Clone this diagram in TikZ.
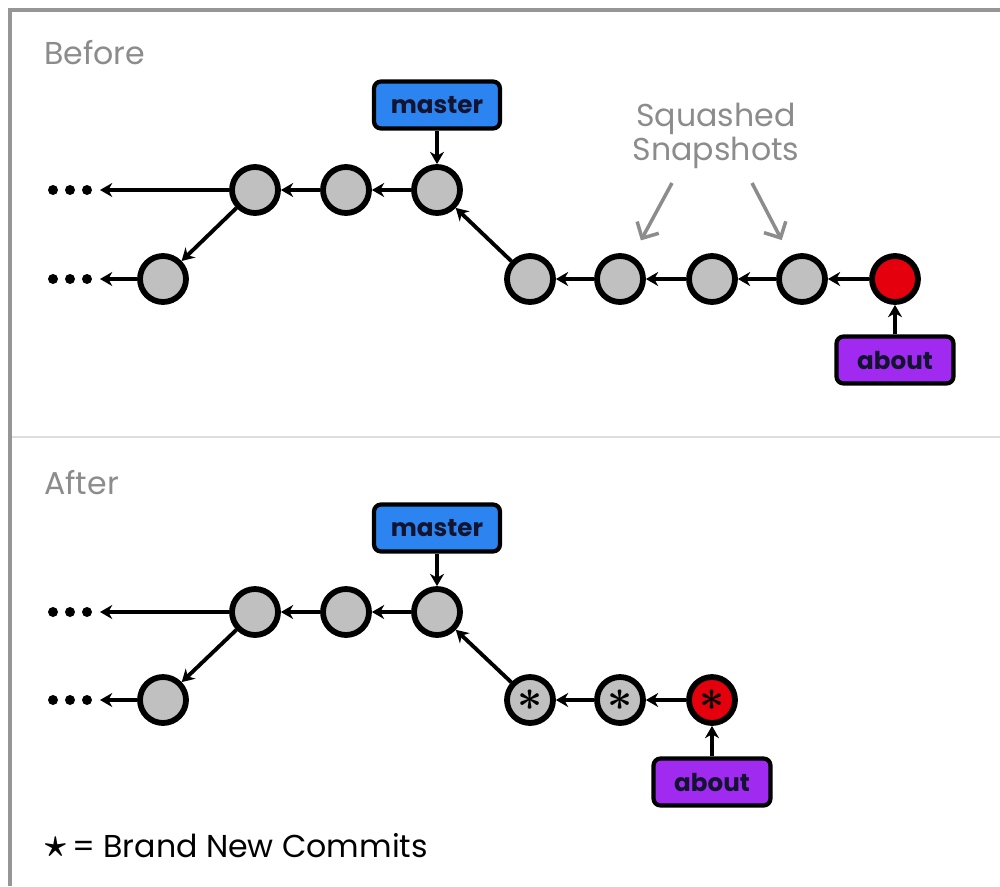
\documentclass[tikz,border=0pt]{standalone}
\usepackage{fontspec}
\setmainfont{Poppins}
\usepackage{tikz}
\usetikzlibrary{arrows.meta}

\definecolor{commitgray}{RGB}{192,192,192}
\definecolor{headred}{RGB}{228,0,12}
\definecolor{masterblue}{RGB}{44,132,240}
\definecolor{aboutpurple}{RGB}{160,42,240}
\definecolor{labelink}{RGB}{18,20,48}
\definecolor{captiongray}{RGB}{140,140,140}
\definecolor{framegray}{RGB}{150,150,150}
\definecolor{dividergray}{RGB}{222,222,222}

\tikzset{
  commit/.style={circle, draw=black, line width=3.3pt, fill=commitgray, minimum size=0.92cm, inner sep=0pt, font=\Huge\boldmath},
  headcommit/.style={commit, fill=headred},
  branch/.style={draw=black, line width=2.4pt, rounded corners=4pt, minimum height=0.94cm, font=\bfseries\fontsize{14}{14}\selectfont, text=labelink},
  parent/.style={->, >={Stealth[length=7pt, width=8pt]}, line width=2.2pt},
  note/.style={-{Straight Barb[length=7pt, width=14pt]}, line width=2pt, captiongray},
  caption/.style={font=\fontsize{18}{19}\selectfont, text=captiongray}
}

\begin{document}
\begin{tikzpicture}[x=0.02cm, y=-0.02cm]
            \useasboundingbox (0,0) rectangle (1000,886);

            % frame and divider
            \draw[framegray, line width=2.4pt] (10,886) -- (10,10) -- (1000,10);
            \draw[dividergray, line width=1.6pt] (12,437) -- (1000,437);

            % Before
            \node[caption, anchor=west] (before) at (38,53) {Before};
            \foreach \y in {190, 279} {
              \foreach \x in {53, 70, 87} \fill (\x,\y) circle (5);
            }
            \coordinate (tailA) at (100,190);
            \coordinate (tailD) at (100,279);

            \node (a) [commit] at (255,190) {};
            \node (b) [commit] at (346,190) {};
            \node (c) [commit] at (437,190) {};
            \node (d) [commit] at (163,279) {};
            \node (e) [commit] at (530,279) {};
            \node (f) [commit] at (620,279) {};
            \node (g) [commit] at (712,279) {};
            \node (h) [commit] at (802,279) {};
            \node (i) [headcommit] at (895,279) {};

            \node (master) [branch, fill=masterblue, minimum width=2.52cm] at (437,105) {master};
            \node (about) [branch, fill=aboutpurple, minimum width=2.34cm] at (895,360) {about};

            \draw[parent] (a) -- (tailA);
            \draw[parent] (a) -- (d);
            \draw[parent] (d) -- (tailD);
            \draw[parent] (b) -- (a);
            \draw[parent] (c) -- (b);
            \draw[parent] (e) -- (c);
            \draw[parent] (f) -- (e);
            \draw[parent] (g) -- (f);
            \draw[parent] (h) -- (g);
            \draw[parent] (i) -- (h);
            \draw[parent] (master) -- (c);
            \draw[parent] (about) -- (i);

            % Squashed note
            \node[caption, align=center] (squash) at (716,136) {Squashed\\Snapshots};
            \coordinate (noteL) at (672,183);
            \coordinate (noteR) at (752,183);
            \draw[note, shorten >=0.36cm] (noteL) -- (f);
            \draw[note, shorten >=0.36cm] (noteR) -- (h);

            % After
            \node[caption, anchor=west] (after) at (38,483) {After};
            \foreach \y in {612, 700} {
              \foreach \x in {53, 70, 87} \fill (\x,\y) circle (5);
            }
            \coordinate (tailA2) at (100,612);
            \coordinate (tailD2) at (100,700);

            \node (a2) [commit] at (255,612) {};
            \node (b2) [commit] at (346,612) {};
            \node (c2) [commit] at (437,612) {};
            \node (d2) [commit] at (163,700) {};
            \node (e2) [commit] at (530,700) {$\ast$};
            \node (f2) [commit] at (620,700) {$\ast$};
            \node (g2) [headcommit] at (712,700) {$\ast$};

            \node (master2) [branch, fill=masterblue, minimum width=2.52cm] at (437,528) {master};
            \node (about2) [branch, fill=aboutpurple, minimum width=2.34cm] at (712,782) {about};

            \draw[parent] (a2) -- (tailA2);
            \draw[parent] (a2) -- (d2);
            \draw[parent] (d2) -- (tailD2);
            \draw[parent] (b2) -- (a2);
            \draw[parent] (c2) -- (b2);
            \draw[parent] (e2) -- (c2);
            \draw[parent] (f2) -- (e2);
            \draw[parent] (g2) -- (f2);
            \draw[parent] (master2) -- (c2);
            \draw[parent] (about2) -- (g2);

            % legend
            \node[anchor=west, font=\fontsize{18}{19}\selectfont] (legend) at (38,846) {\raisebox{0.05em}{\scalebox{1.3}{\boldmath$\star$}}\,= Brand New Commits};

        \end{tikzpicture}
\end{document}
